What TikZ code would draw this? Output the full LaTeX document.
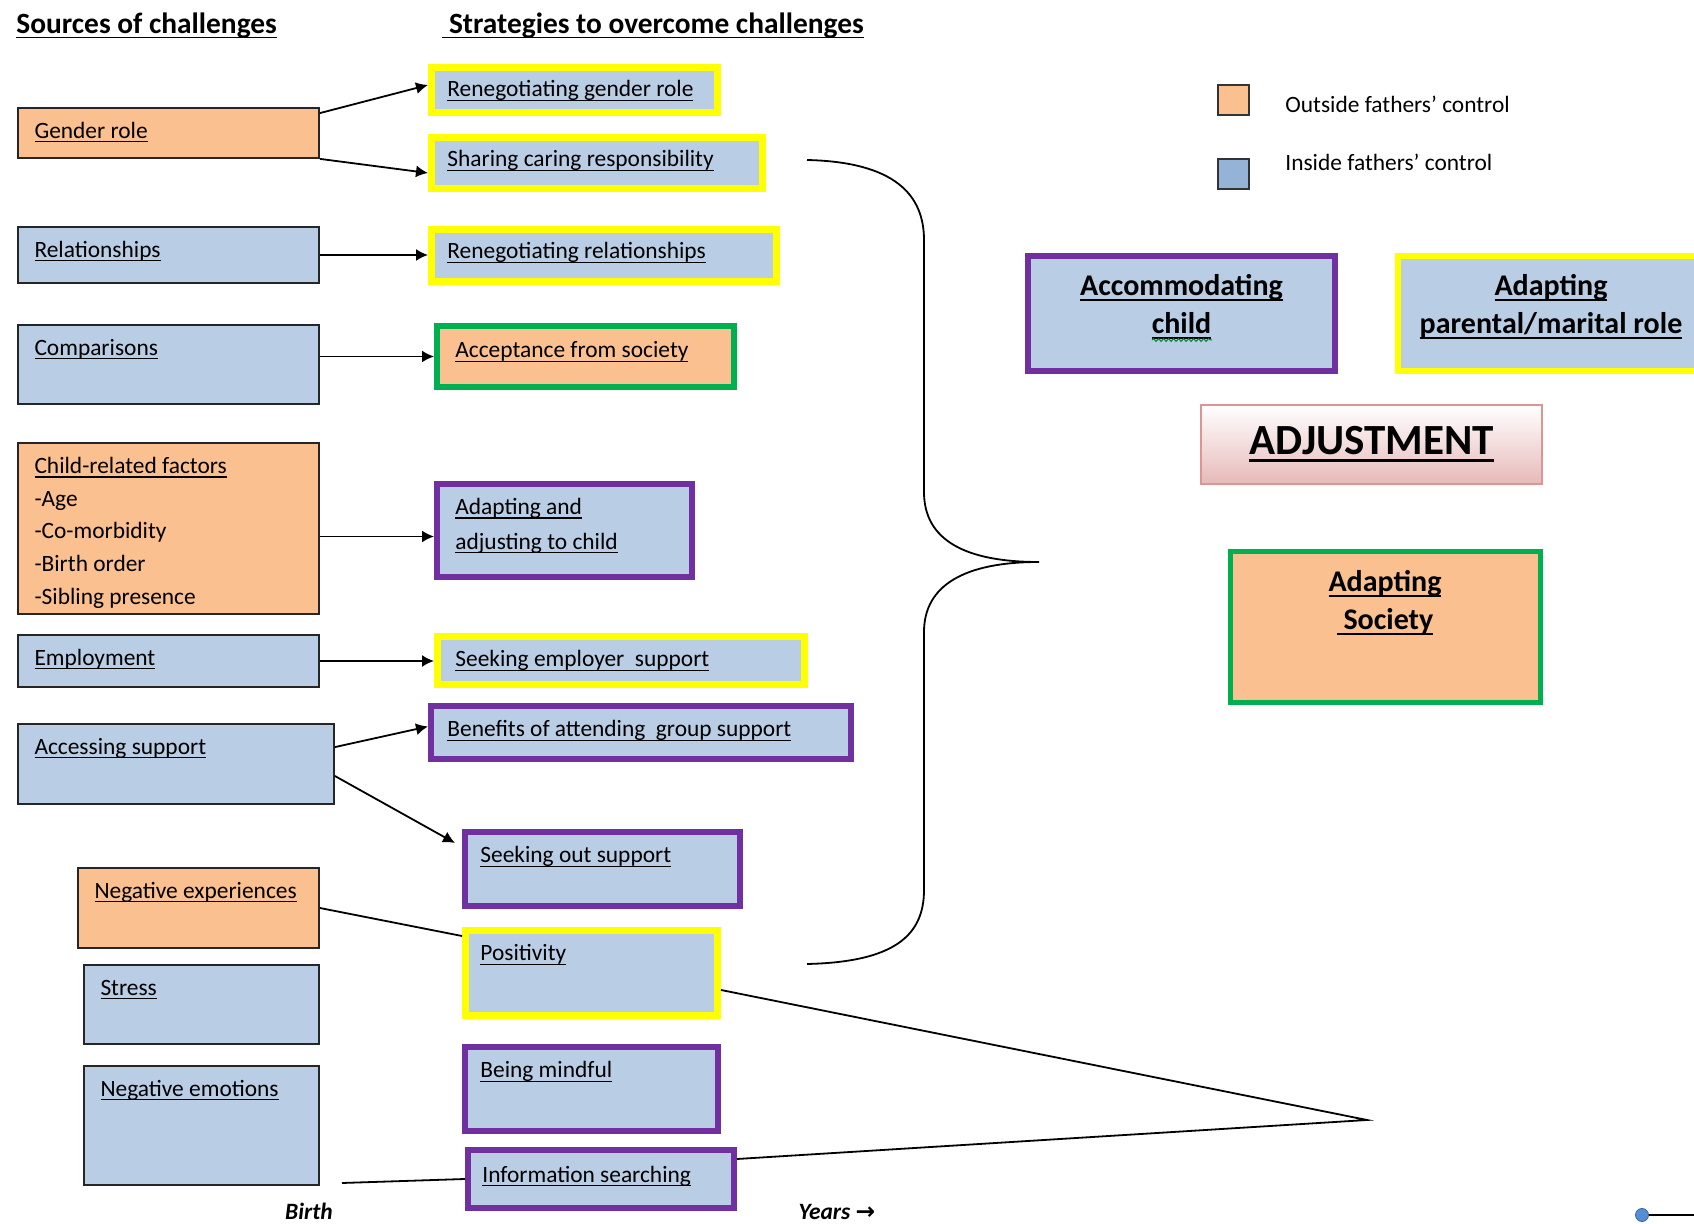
\documentclass[tikz,border=0pt]{standalone}
\usepackage{fontspec}
\setmainfont{Carlito}
\newfontfamily\arrowfont{DejaVu Sans}
\usetikzlibrary{arrows.meta,fit,decorations.pathmorphing}
\definecolor{outfill}{HTML}{FAC090}
\definecolor{infill}{HTML}{B9CDE5}
\definecolor{legblue}{HTML}{95B3D7}
\definecolor{ylw}{HTML}{FFFF00}
\definecolor{prp}{HTML}{7030A0}
\definecolor{grn}{HTML}{00B050}
\definecolor{adjpink}{HTML}{E6B9B8}
\definecolor{adjedge}{HTML}{D99694}
\definecolor{dotblue}{HTML}{558ED5}
\newsavebox\ulbox
\newcommand{\ulx}[1]{\sbox\ulbox{#1}\rlap{\rule[-0.17em]{\wd\ulbox}{0.06em}}\usebox\ulbox}
\newcommand{\smallfont}{\fontsize{11.7}{16.3}\selectfont}
\newcommand{\bigfont}{\fontsize{15}{19}\selectfont\bfseries}
\begin{document}
\begin{tikzpicture}[x=0.5pt,y=-0.5pt,font=\smallfont,
  box/.style={inner sep=0pt, draw=black!85, line width=0.9pt},
  outbox/.style={box, fill=outfill},
  inbox/.style={box, fill=infill},
  ylwbox/.style={inner sep=0pt, fill=infill, draw=ylw, line width=3.5pt},
  prpbox/.style={inner sep=0pt, fill=infill, draw=prp, line width=3pt},
  grnbox/.style={inner sep=0pt, fill=outfill, draw=grn, line width=3pt},
  lbl/.style={anchor=base west, inner sep=0pt},
  lbls/.style={anchor=north west, inner sep=0pt, align=left},
  link/.style={-{Latex[length=6pt,width=6pt]}, line width=0.9pt},
  plain/.style={line width=0.9pt}]
\useasboundingbox (0,0) rectangle (1694,1224);
% headings
\node[lbl, font=\fontsize{14.7}{18}\selectfont\bfseries] (srchead) at (16,33.5) {\ulx{Sources of challenges}};
\node[lbl, font=\fontsize{14.7}{18}\selectfont\bfseries] (strathead) at (442,33.5) {\ulx{\ Strategies to overcome challenges}};
% sources
\node[outbox, fit={(18,108) (319,158)}] (gender) {};
\node[inbox, fit={(18,227) (319,283)}] (relat) {};
\node[inbox, fit={(18,325) (319,404)}] (compar) {};
\node[outbox, fit={(18,443) (319,614)}] (child) {};
\node[inbox, fit={(18,635) (319,687)}] (employ) {};
\node[inbox, fit={(18,724) (334,804)}] (access) {};
\node[outbox, fit={(78,868) (319,948)}] (negexp) {};
\node[inbox, fit={(84,965) (319,1044)}] (stress) {};
\node[inbox, fit={(84,1066) (319,1185)}] (negemo) {};
\node[lbl] (gendert) at ([shift={(17,31)}]gender.north west) {\ulx{Gender role}};
\node[lbl] (relatt) at ([shift={(17,31)}]relat.north west) {\ulx{Relationships}};
\node[lbl] (compart) at ([shift={(17,31)}]compar.north west) {\ulx{Comparisons}};
\node[lbls] (childt) at ([shift={(17,15)}]child.north west) {\ulx{Child-related factors}\\-Age\\-Co-morbidity\\-Birth order\\-Sibling presence};
\node[lbl] (employt) at ([shift={(17,31)}]employ.north west) {\ulx{Employment}};
\node[lbl] (accesst) at ([shift={(17,31)}]access.north west) {\ulx{Accessing support}};
\node[lbl] (negexpt) at ([shift={(17,31)}]negexp.north west) {\ulx{Negative experiences}};
\node[lbl] (stresst) at ([shift={(17,31)}]stress.north west) {\ulx{Stress}};
\node[lbl] (negemot) at ([shift={(17,31)}]negemo.north west) {\ulx{Negative emotions}};
% strategies
\node[ylwbox, fit={(431.5,67.5) (717.5,112.5)}] (reneggen) {};
\node[ylwbox, fit={(431.5,137.5) (762.5,188.5)}] (sharing) {};
\node[ylwbox, fit={(431.5,229.5) (776.5,281.5)}] (renegrel) {};
\node[grnbox, fit={(437,326) (734,387)}] (accept) {};
\node[prpbox, fit={(437,484) (692,577)}] (adaptchild) {};
\node[ylwbox, fit={(437.5,636.5) (804.5,684.5)}] (seekemp) {};
\node[prpbox, fit={(431,706) (851,759)}] (benefits) {};
\node[prpbox, fit={(465,832) (740,906)}] (seekout) {};
\node[ylwbox, fit={(465.5,930.5) (717.5,1015.5)}] (positivity) {};
\node[prpbox, fit={(465,1047) (718,1131)}] (mindful) {};
\node[prpbox, fit={(468,1150) (734,1208)}] (infosearch) {};
\node[lbl] (reneggent) at ([shift={(19,33)}]reneggen.north west) {\ulx{Renegotiating gender role}};
\node[lbl] (sharingt) at ([shift={(19,33)}]sharing.north west) {\ulx{Sharing caring responsibility}};
\node[lbl] (renegrelt) at ([shift={(19,33)}]renegrel.north west) {\ulx{Renegotiating relationships}};
\node[lbl] (acceptt) at ([shift={(21,35)}]accept.north west) {\ulx{Acceptance from society}};
\node[lbls] (adaptchildt) at ([shift={(21,17)}]adaptchild.north west) {\ulx{Adapting and}\\[1pt]\ulx{adjusting to child}};
\node[lbl] (seekempt) at ([shift={(21,34)}]seekemp.north west) {\ulx{Seeking employer\ \ support}};
\node[lbl] (benefitst) at ([shift={(19,34)}]benefits.north west) {\ulx{Benefits of attending\ \ group support}};
\node[lbl] (seekoutt) at ([shift={(18,34)}]seekout.north west) {\ulx{Seeking out support}};
\node[lbl] (positivityt) at ([shift={(18,34)}]positivity.north west) {\ulx{Positivity}};
\node[lbl] (mindfult) at ([shift={(18,34)}]mindful.north west) {\ulx{Being mindful}};
\node[lbl] (infosearcht) at ([shift={(17,35)}]infosearch.north west) {\ulx{Information searching}};
% adjustment side
\node[prpbox, line width=2.75pt, fit={(1028,256) (1335,371)}] (accom) {};
\node[ylwbox, line width=2.75pt, fit={(1398,256) (1704,371)}] (adaptrole) {};
\node[inner sep=0pt, draw=adjedge, line width=0.6pt, top color=white, bottom color=adjpink, fit={(1201,405) (1542,484)}] (adjust) {};
\node[grnbox, line width=2.5pt, fit={(1230,552) (1540,703)}] (society) {};
\node[anchor=north, inner sep=0pt, align=center, font=\bigfont] (accomt) at ([yshift=-10.5pt]accom.north) {\ulx{Accommodating}\\\ulx{child}};
\node[anchor=north, inner sep=0pt, align=center, font=\bigfont] (adaptrolet) at ([yshift=-10.5pt]adaptrole.north) {\ulx{Adapting}\\\ulx{parental/marital role}};
\node[anchor=base, inner sep=0pt, font=\fontsize{21.5}{24}\selectfont\bfseries] (adjustt) at ([yshift=-5pt]adjust.center) {\ulx{ADJUSTMENT}};
\node[anchor=north, inner sep=0pt, align=center, font=\bigfont] (societyt) at ([yshift=-10.5pt]society.north) {\ulx{Adapting}\\\ulx{\ Society}};
\draw[grn!75!black, line width=0.5pt, decorate, decoration={snake, amplitude=0.7pt, segment length=2.5pt}] (1152,340) -- (1212,340);
% legend
\node[box, line width=1.2pt, draw=black!80, fill=outfill, fit={(1218,85) (1249,115)}] (legout) {};
\node[box, line width=1.2pt, draw=black!80, fill=legblue, fit={(1218,159) (1249,189)}] (legin) {};
\node[lbl] (legoutt) at (1285,113) {Outside fathers’ control};
\node[lbl] (legint) at (1285,171) {Inside fathers’ control};
% arrows
\draw[link] ([yshift=-3pt]gender.north east) -- ([yshift=2.5pt]reneggen.west);
\draw[link] (gender.south east) -- ([yshift=-5pt]sharing.west);
\draw[link] (relat.east) -- (relat.east -| renegrel.west);
\draw[link] (compar.east |- accept.west) -- (accept.west);
\draw[link] ([yshift=-4pt]child.east) -- ([yshift=-4pt]child.east -| adaptchild.west);
\draw[link] (employ.east) -- (employ.east -| seekemp.west);
\draw[link] ([yshift=-12pt]access.north east) -- ([yshift=3pt]benefits.west);
\draw[link] ([yshift=-6pt]access.east) -- ([shift={(-3.5pt,-7pt)}]seekout.north west);
% brace
\draw[plain] (807,160) .. controls (895,162) and (924,195) .. (924,240) -- (924,492)
  .. controls (924,540) and (965,562) .. (1039,562)
  .. controls (965,562) and (924,585) .. (924,632) -- (924,890)
  .. controls (924,935) and (895,962) .. (807,964);
% wedge
\coordinate (apex) at (1367,1120);
\coordinate (birthpt) at (342,1183);
\draw[plain] (negexp.east) -- ([yshift=-4.5pt]positivity.north west);
\draw[plain] ([yshift=-8.5pt]positivity.east) -- (apex) -- ([yshift=-6pt]infosearch.north east);
\draw[plain] (birthpt) -- (infosearch.west);
\node[anchor=base, inner sep=0pt, font=\smallfont\bfseries\itshape] (birth) at (309,1219) {Birth};
\node[anchor=base, inner sep=0pt, font=\smallfont\bfseries\itshape] (years) at (837,1219) {Years {\arrowfont\upshape\bfseries →}};
% dot
\node[circle, inner sep=0pt, minimum size=6.5pt, fill=dotblue, draw=dotblue!70!black, line width=0.4pt] (dot) at (1642,1215) {};
\coordinate (rimpt) at (1700,1215);
\draw[plain] (dot.east) -- (rimpt);
\end{tikzpicture}
\end{document}
